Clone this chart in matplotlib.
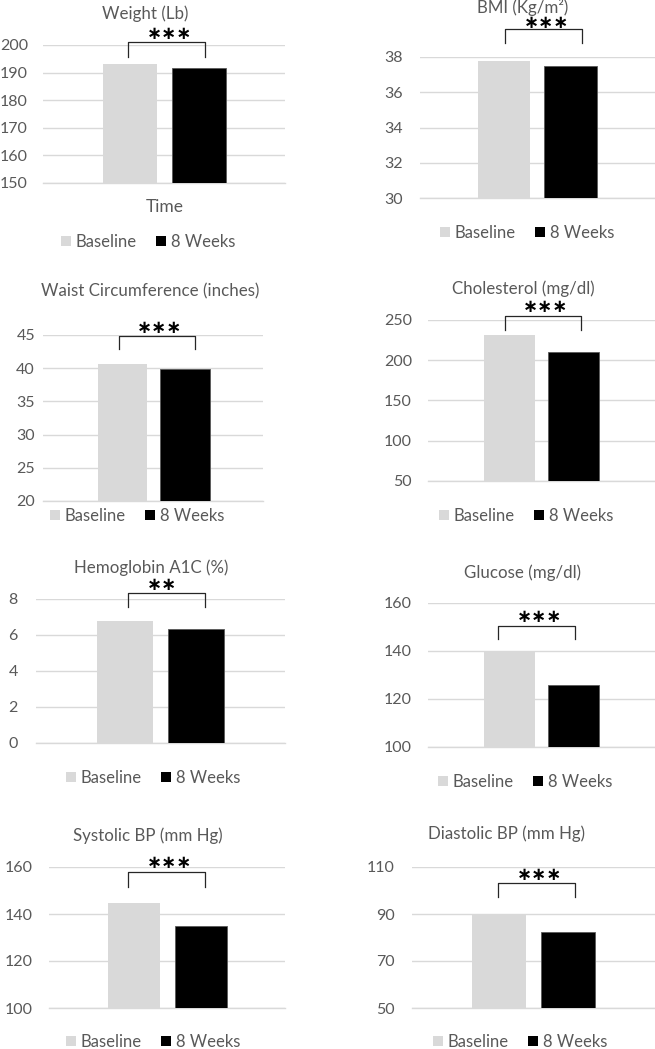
import matplotlib
matplotlib.use("Agg")
import matplotlib.pyplot as plt
from matplotlib.patches import Patch

# ---------------- data ----------------
titles = ["Weight (Lb)", "BMI (Kg/m²)", "Waist Circumference (inches)", "Cholesterol (mg/dl)",
          "Hemoglobin A1C (%)", "Glucose (mg/dl)", "Systolic BP (mm Hg)", "Diastolic BP (mm Hg)"]
series = ["Baseline", "8 Weeks"]
baseline = [193.1, 37.8, 40.6, 231, 6.76, 140, 144.6, 90]
week8 = [191.6, 37.5, 39.9, 210, 6.35, 126, 135, 82.5]
weight_ticks = [150, 160, 170, 180, 190, 200]
bmi_ticks = [30, 32, 34, 36, 38]
waist_ticks = [20, 25, 30, 35, 40, 45]
chol_ticks = [50, 100, 150, 200, 250]
a1c_ticks = [0, 2, 4, 6, 8]
glucose_ticks = [100, 120, 140, 160]
sys_ticks = [100, 120, 140, 160]
dia_ticks = [50, 70, 90, 110]
yticks = [weight_ticks, bmi_ticks, waist_ticks, chol_ticks, a1c_ticks, glucose_ticks, sys_ticks, dia_ticks]
significance = [3, 3, 3, 3, 2, 3, 3, 3]   # number of asterisks
xlabel_first = "Time"

# ---------------- layout (pixels) ----------------
W, H, DPI = 655, 1049, 100
# L, R, top, bottom, c1, d, barw, pad, title_x, title_y, br_x0, br_x1, br_top, br_bot, star_x, star_y, leg_cx, leg_y
layout = [
    (43, 285, 45, 183, 130, 68.5, 54, 15, 145, 14, 128, 205, 42, 57, 170, 34, 148, 242),
    (420, 660, 57, 198, 504, 66.5, 52.5, 17, 523, 7, 505, 582, 29, 43, 547, 23, 527, 233),
    (43, 263, 335, 501, 122.5, 62.5, 49.5, 8, 150, 291, 119, 195, 336, 349, 160, 328, 137, 516),
    (428, 660, 320, 481, 509.5, 64, 51, 16, 523, 289, 505, 581, 316, 330, 546, 307, 526, 516),
    (36, 285, 599, 743, 125, 71, 56, 18, 151, 568, 128, 205, 593, 607, 162, 585, 153, 778),
    (428, 660, 603, 747, 509.5, 64.5, 51, 16, 523, 573, 498, 575, 626, 639, 540, 617, 525, 782),
    (49, 285, 867, 1008, 134, 67, 52, 16, 148, 836, 128, 205, 872, 887, 170, 863, 153, 1042),
    (412, 660, 867, 1008, 499, 69, 54, 17, 507, 834, 498, 575, 883, 897, 540, 875, 520, 1042),
]

GRAY_TXT = "#595959"
GRID = "#d9d9d9"
C_BASE = "#d9d9d9"
C_8W = "#000000"
FONT = ["Lato", "DejaVu Sans"]

plt.rcParams["font.family"] = FONT

fig = plt.figure(figsize=(W / DPI, H / DPI), dpi=DPI)

def fx(x):
    return x / W

def fy(y):
    return 1 - y / H

for i in range(8):
    (L, R, top, bot, c1, d, bw, pad, tx, ty, bx0, bx1, bt, bb, sx, sy, lcx, ly) = layout[i]
    ax = fig.add_axes([fx(L), fy(bot), (R - L) / W, (bot - top) / H])
    ax.bar([0], [baseline[i]], width=bw / d, color=C_BASE, zorder=3)
    ax.bar([1], [week8[i]], width=bw / d, color=C_8W, edgecolor="#595959", linewidth=0.6, zorder=3)
    ax.set_xlim((L - c1) / d, (R - c1) / d)
    t = yticks[i]
    ax.set_ylim(t[0], t[-1])
    ax.set_yticks(t)
    ax.set_yticklabels([str(v) for v in t])
    ax.set_xticks([])
    for s in ax.spines.values():
        s.set_visible(False)
    ax.grid(axis="y", color=GRID, linewidth=1.0, zorder=0)
    ax.tick_params(axis="y", length=0, pad=pad * 72 / DPI, labelsize=11.5, labelcolor=GRAY_TXT)
    ax.axhline(t[0], color=GRID, linewidth=1.0, zorder=1, clip_on=False)

    fig.text(fx(tx), fy(ty), titles[i], ha="center", va="center", fontsize=12.2, color=GRAY_TXT)

    # significance bracket
    fig.add_artist(plt.Line2D([fx(bx0), fx(bx0), fx(bx1), fx(bx1)],
                              [fy(bb), fy(bt), fy(bt), fy(bb)],
                              transform=fig.transFigure, color="#262626", linewidth=0.9))
    fig.text(fx(sx), fy(sy), "\u2217" * significance[i], ha="center", va="center", fontsize=13,
             family=["DejaVu Sans"], fontweight="bold", color="black")

    handles = [Patch(facecolor=C_BASE, edgecolor="none"), Patch(facecolor=C_8W, edgecolor="none")]
    ax.legend(handles, series, loc="center", bbox_to_anchor=(fx(lcx), fy(ly)),
              bbox_transform=fig.transFigure, ncol=2, frameon=False,
              handlelength=0.6, handleheight=0.6, handletextpad=0.3, columnspacing=1.15,
              fontsize=12, labelcolor=GRAY_TXT, borderpad=0, borderaxespad=0)

    if i == 0:
        fig.text(fx(165), fy(207), xlabel_first, ha="center", va="center", fontsize=12.5, color=GRAY_TXT)

fig.savefig("out.png", dpi=DPI)
